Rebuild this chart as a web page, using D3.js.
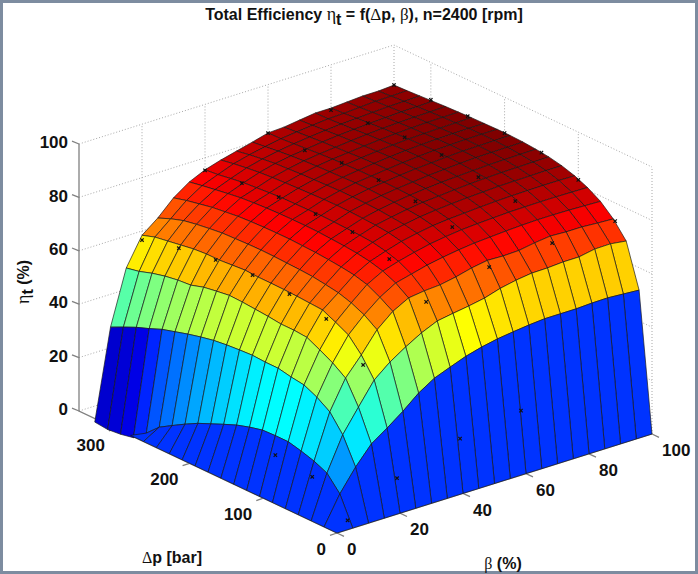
<!DOCTYPE html>
<html><head><meta charset="utf-8">
<style>html,body{margin:0;padding:0;background:#fff}svg{display:block}text{font-family:"Liberation Sans",Arial,sans-serif;fill:#111}.g{font-family:"Liberation Serif",serif;font-weight:normal}</style>
<script src="https://cdn.jsdelivr.net/npm/d3@7/dist/d3.min.js"></script>
</head><body><svg id="c" width="698" height="574"></svg>
<script>
const pressure=[0,17.5,35,52.5,70,87.5,105,122.5,140,157.5,175,192.5,210,227.5,245,262.5,280,297.5,315,332.5,350];
const beta=[0,5,10,15,20,25,30,35,40,45,50,55,60,65,70,75,80,85,90,95,100];
const eta0=[0,0,0,0,0,0,0,0,0,0,0,0,0,0,0,0,0,0,0,0,0];
const eta5=[0,10.5,16,18.2,19.7,20.9,20.9,20.7,19.5,18,16,13.9,11.8,9.2,6.4,3.5,-1,-5,-6,-6.5,-6];
const eta10=[0,18.7,28.5,34.8,38,40.3,41,42,42,42.3,42,41.6,41,40,38.8,37.4,36,34,32.2,30,27.7];
const eta15=[0,25.5,37,45.6,49,51.6,54,54.4,54.4,55,55.4,55.8,56,55.3,54.5,53,52.6,51.8,50.6,49,48];
const eta20=[0,29.6,45.3,52.4,57.6,60.1,62.4,62.7,63,63.2,63.3,63.3,63.6,63.2,62.8,62.8,62.4,61.6,60.8,60,58.4];
const eta25=[0,34,50.2,60,63.3,65.5,67,67.8,68.5,68.8,69,69.2,69.3,69.2,69,68.8,68.2,67.5,66.6,65,63];
const eta30=[0,39,54,65,68,70.5,71.8,72.5,73,73.4,73.6,73.8,73.8,73.7,73.5,73.2,72.6,72,71,70,68.7];
const eta35=[0,42.7,57.4,68.2,71.5,73.7,75,75.8,76.3,76.6,76.9,77,77,76.9,76.7,76.4,76,75.3,74.5,73.7,72.8];
const eta40=[0,45,60,69,73,75.5,77,78,78.4,78.6,78.8,78.9,78.8,78.7,78.6,78.3,77.9,77.5,76.8,76,75.5];
const eta45=[0,47.2,61,69.4,74.5,77,78.8,79.8,80.3,80.6,80.8,80.9,80.8,80.6,80.4,80.2,79.9,79.5,78.9,78.2,77.3];
const eta50=[0,48.8,61.9,70.5,75.6,78.3,80,81,81.5,81.9,82.1,82.2,82.2,82,81.8,81.6,81.3,81,80.4,79.7,78.8];
const eta55=[0,50,63,72,76.5,79.2,81,82,82.5,82.9,83.1,83.3,83.3,83.1,82.9,82.7,82.4,82,81.5,80.9,80.3];
const eta60=[0,50.8,64.8,73,77.2,79.9,81.6,82.7,83.3,83.7,83.9,84,84,83.9,83.7,83.5,83.2,82.8,82.4,82,81.9];
const eta65=[0,51.5,66,72.8,77.6,80.3,82,83.2,83.8,84.3,84.5,84.7,84.7,84.6,84.4,84.1,83.8,83.5,83.1,82.7,82.2];
const eta70=[0,52,66.8,73,78,80.6,82.4,83.6,84.3,84.8,85.1,85.3,85.3,85.2,85,84.7,84.4,84.1,83.7,83.3,83];
const eta75=[0,52,66.9,74,78.3,80.9,82.7,83.9,84.7,85.2,85.5,85.7,85.8,85.7,85.5,85.2,84.9,84.5,84.2,83.9,83.8];
const eta80=[0,52,67.3,74.7,78.5,81,82.9,84.2,85,85.5,85.9,86.1,86.2,86.1,85.9,85.6,85.3,84.9,84.5,84.1,83.8];
const eta85=[0,52.3,67.3,74.4,78.5,81.1,83,84.3,85.2,85.8,86.2,86.4,86.4,86.3,86.1,85.9,85.6,85.2,84.9,84.5,84.2];
const eta90=[0,52.4,68.4,74.4,78.4,81.1,83.1,84.4,85.3,85.9,86.3,86.5,86.6,86.5,86.3,86.1,85.8,85.5,85.2,84.9,84.6];
const eta95=[0,52,68.5,74,78.2,81,83.1,84.5,85.4,86,86.4,86.6,86.7,86.6,86.4,86.2,85.9,85.6,85.3,85,84.6];
const eta100=[0,51.6,67.7,73.7,78,80.9,83,84.5,85.5,86.1,86.5,86.7,86.7,86.6,86.5,86.3,86.1,85.8,85.5,85.2,85];
const measuredP=[350,300,250,200,150,100,50,350,300,250,200,150,100,50,350,300,250,200,150,100,50,350,300,250,200,150,100,50,350,300,250,200,150,100,50,4,4,6.8,7,55,105];
const measuredB=[20,20,20,20,20,20,20,40,40,40,40,40,40,40,60,60,60,60,60,60,60,80,80,80,80,80,80,80,100,100,100,100,100,100,100,20,40,60,5,5,5];
const measuredZ=[56.6,60.1,62.2,63.1,62.5,59.7,49,75.3,77,78.3,78.5,78.3,74.7,65.2,81.8,81.9,83.7,83.8,82.4,79.3,70.8,83,84.7,85.9,85.8,84,81.6,72.4,85,86,86.4,86.6,85.8,82.1,73.2,12.6,20,22.7,2,12,13.6];
const pTicks=[0,100,200,300];
const bTicks=[0,20,40,60,80,100];
const zTicks=[0,20,40,60,80,100];
const pMax=350;

const eta=[eta0,eta5,eta10,eta15,eta20,eta25,eta30,eta35,eta40,eta45,eta50,eta55,eta60,eta65,eta70,eta75,eta80,eta85,eta90,eta95,eta100];

const svg=d3.select("#c");
const origin=[337,533];
const pX=d3.scaleLinear().domain([0,350]).range([0,-258]);
const pY=d3.scaleLinear().domain([0,350]).range([0,-122]);
const bX=d3.scaleLinear().domain([0,100]).range([0,315]);
const bY=d3.scaleLinear().domain([0,100]).range([0,-99]);
const zY=d3.scaleLinear().domain([0,100]).range([0,-267]);
const proj=(p,b,z)=>[origin[0]+pX(p)+bX(b),origin[1]+pY(p)+bY(b)+zY(z)];
const colorT=d3.scaleLinear().domain([-7,0,86.7]).range([0.07,0.175,1]);
const cl=v=>Math.round(255*Math.max(0,Math.min(1,v)));
function jet(t){return `rgb(${cl(Math.min(4*t-1.5,4.5-4*t))},${cl(Math.min(4*t-0.5,3.5-4*t))},${cl(Math.min(4*t+0.5,2.5-4*t))})`;}
const line=d3.line();

// frame
svg.append("rect").attr("x",1.5).attr("y",1.5).attr("width",695).attr("height",571).attr("fill","#fff").attr("stroke","#7d8ca0").attr("stroke-width",3);

// back walls
const walls=svg.append("g").attr("fill","none").attr("stroke","#a8a8a8").attr("stroke-width",1).attr("stroke-dasharray","1 2");
zTicks.forEach(z=>{
  walls.append("path").attr("d",line([proj(pMax,0,z),proj(pMax,100,z),proj(0,100,z)]));
});
bTicks.filter(b=>b>0).forEach(b=>{
  walls.append("path").attr("d",line([proj(pMax,b,0),proj(pMax,b,100)]));
});
pTicks.forEach(p=>{
  walls.append("path").attr("d",line([proj(p,100,0),proj(p,100,100)]));
});

// axis lines and ticks
const axes=svg.append("g").attr("fill","none").attr("stroke","#808080").attr("stroke-width",1.3);
axes.append("path").attr("d",line([proj(pMax,0,100),proj(pMax,0,0),proj(0,0,0),proj(0,100,0)]));
zTicks.forEach(z=>{const a=proj(pMax,0,z);axes.append("path").attr("d",line([a,[a[0]-7,a[1]-2.8]]));});
pTicks.forEach(p=>{const a=proj(p,0,0);axes.append("path").attr("d",line([a,[a[0]-7,a[1]+2.4]]));});
bTicks.forEach(b=>{const a=proj(0,b,0);axes.append("path").attr("d",line([a,[a[0]+7,a[1]+3.3]]));});

// surface, back to front
const surf=svg.append("g").attr("stroke","#161616").attr("stroke-width",0.9).attr("stroke-opacity",0.75).attr("stroke-linejoin","round");
for(let i=beta.length-2;i>=0;i--){
  for(let j=pressure.length-2;j>=0;j--){
    const zs=[eta[i][j],eta[i][j+1],eta[i+1][j+1],eta[i+1][j]];
    if(Math.max(...zs)<=0 && i===0 && j>0) continue;
    const pts=[proj(pressure[j],beta[i],zs[0]),proj(pressure[j+1],beta[i],zs[1]),proj(pressure[j+1],beta[i+1],zs[2]),proj(pressure[j],beta[i+1],zs[3])];
    surf.append("path").attr("d",line(pts)+"Z").attr("fill",jet(colorT(zs[0])));
  }
}

// measured points
const sym=d3.symbol().type(d3.symbolX).size(9);
svg.append("g").selectAll("path").data(measuredP.map((p,i)=>proj(p,measuredB[i],measuredZ[i]))).join("path")
  .attr("d",sym).attr("transform",d=>`translate(${d[0]},${d[1]})`).attr("fill","none").attr("stroke","#111").attr("stroke-width",1.2);

// tick labels
const tl=svg.append("g").attr("font-size",17).attr("font-weight","bold");
zTicks.forEach(z=>{const a=proj(pMax,0,z);tl.append("text").attr("x",a[0]-11).attr("y",a[1]-2).attr("dy","0.36em").attr("text-anchor","end").text(z);});
pTicks.forEach(p=>{const a=proj(p,0,0);tl.append("text").attr("x",a[0]-11).attr("y",a[1]+16).attr("dy","0.36em").attr("text-anchor","end").text(p);});
bTicks.forEach(b=>{const a=proj(0,b,0);tl.append("text").attr("x",a[0]+10).attr("y",a[1]+16).attr("dy","0.36em").attr("text-anchor","start").text(b);});

// title
const t=svg.append("text").attr("x",364).attr("y",20).attr("text-anchor","middle").attr("font-size",16).attr("font-weight","bold");
t.append("tspan").text("Total Efficiency ");
t.append("tspan").attr("class","g").attr("font-size",18).text("η");
t.append("tspan").attr("dy",5).text("t");
t.append("tspan").attr("dy",-5).text(" = f(");
t.append("tspan").attr("class","g").attr("font-size",17).text("Δ");
t.append("tspan").text("p, ");
t.append("tspan").attr("class","g").attr("font-size",17).text("β");
t.append("tspan").text("), n=2400 [rpm]");

// axis titles
const xl=svg.append("text").attr("x",172).attr("y",563).attr("text-anchor","middle").attr("font-size",16).attr("font-weight","bold");
xl.append("tspan").attr("class","g").text("Δ");
xl.append("tspan").text("p [bar]");
const yl=svg.append("text").attr("x",503).attr("y",569).attr("text-anchor","middle").attr("font-size",16).attr("font-weight","bold");
yl.append("tspan").attr("class","g").text("β");
yl.append("tspan").text(" (%)");
const zl=svg.append("text").attr("transform","translate(29,282) rotate(-90)").attr("text-anchor","middle").attr("font-size",16).attr("font-weight","bold");
zl.append("tspan").attr("class","g").attr("font-size",18).text("η");
zl.append("tspan").attr("dy",4).text("t");
zl.append("tspan").attr("dy",-4).text(" (%)");
</script></body></html>
